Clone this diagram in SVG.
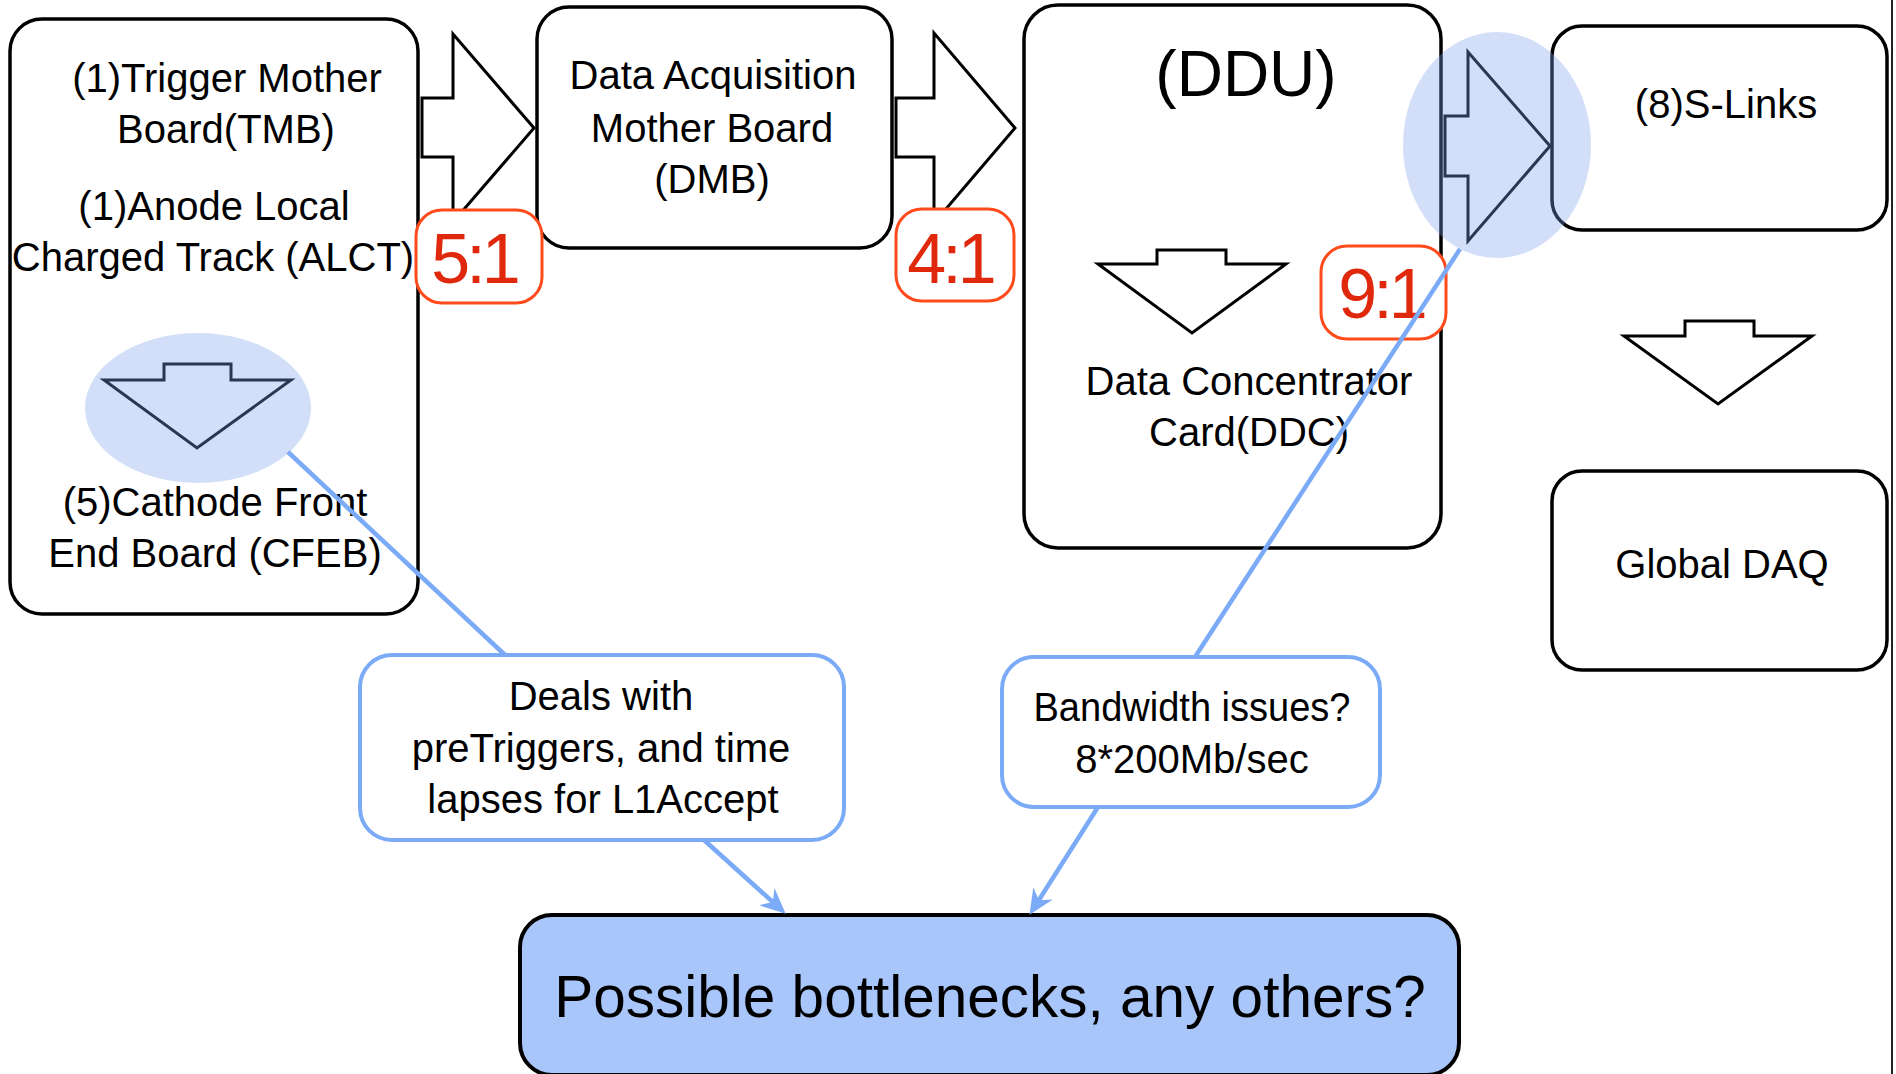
<svg xmlns="http://www.w3.org/2000/svg" width="1896" height="1074" viewBox="0 0 1896 1074">
  <defs>
    <style>
      .box { fill: #ffffff; stroke: #000000; stroke-width: 3.5; }
      .note { fill: #ffffff; stroke: #7baaf7; stroke-width: 4; }
      .goal { fill: #a9c6fa; stroke: #000000; stroke-width: 4; }
      .flow { fill: #ffffff; stroke: #000000; stroke-width: 3; stroke-linejoin: miter; }
      .badge { fill: #ffffff; stroke: #ff4a1c; stroke-width: 3; }
      .lbl { font-family: "Liberation Sans", Arial, sans-serif; font-size: 40px; fill: #000000; text-anchor: middle; }
      .ratio { font-family: "Liberation Sans", Arial, sans-serif; font-size: 70px; fill: #e0280c; text-anchor: middle; letter-spacing: -4px; }
      .halo { fill: #7da0ed; fill-opacity: 0.34; }
      .link { fill: none; stroke: #7baaf7; stroke-width: 4.5; }
    </style>
    <marker id="head" markerUnits="userSpaceOnUse" markerWidth="30" markerHeight="30" viewBox="-24 -12 26 24" refX="-6" refY="0" orient="auto">
      <path d="M0,0 L-22,-10 L-15,0 L-22,10 Z" fill="#7baaf7"/>
    </marker>
  </defs>

  <rect width="1896" height="1074" fill="#ffffff"/>

  <!-- Board-level flow arrows -->
  <g id="flow-arrows">
    <polygon class="flow" points="422,98 453,98 453,34 534,128 453,222 453,157 422,157"/>
    <polygon class="flow" points="896,98 934,98 934,33 1015,128 934,223 934,157 896,157"/>
    <polygon class="flow" points="1445,116 1468,116 1468,52 1550,146 1468,241 1468,176 1445,176"/>
  </g>

  <g id="tmb-alct-cfeb">
    <rect class="box" x="10" y="19" width="408" height="595" rx="32"/>
    <text class="lbl" x="227" y="92">(1)Trigger Mother</text>
    <text class="lbl" x="226" y="143">Board(TMB)</text>
    <text class="lbl" x="214" y="220">(1)Anode Local</text>
    <text class="lbl" x="213" y="271">Charged Track (ALCT)</text>
    <polygon class="flow" points="104,380 164,380 164,364 231,364 231,380 291,380 197,448"/>
    <text class="lbl" x="215" y="516">(5)Cathode Front</text>
    <text class="lbl" x="215" y="567">End Board (CFEB)</text>
  </g>

  <g id="dmb">
    <rect class="box" x="537" y="7" width="355" height="241" rx="32"/>
    <text class="lbl" x="713" y="89">Data Acquisition</text>
    <text class="lbl" x="712" y="142">Mother Board</text>
    <text class="lbl" x="712" y="193">(DMB)</text>
  </g>

  <g id="ddu">
    <rect class="box" x="1024" y="5" width="417" height="543" rx="34"/>
    <text class="lbl" x="1246" y="96" style="font-size:64px">(DDU)</text>
    <polygon class="flow" points="1098,264 1157,264 1157,250 1226,250 1226,264 1286,264 1192,333"/>
    <text class="lbl" x="1249" y="395">Data Concentrator</text>
    <text class="lbl" x="1249" y="446">Card(DDC)</text>
  </g>

  <g id="s-links">
    <rect class="box" x="1552" y="26" width="335" height="204" rx="30"/>
    <text class="lbl" x="1726" y="118">(8)S-Links</text>
  </g>

  <g id="slink-arrow">
    <polygon class="flow" points="1624,336 1685,336 1685,321 1754,321 1754,336 1812,336 1718,404"/>
  </g>

  <g id="global-daq">
    <rect class="box" x="1552" y="471" width="335" height="199" rx="30"/>
    <text class="lbl" x="1722" y="578">Global DAQ</text>
  </g>

  <!-- Reduction ratios -->
  <g id="ratio-5-1">
    <rect class="badge" x="416" y="210" width="126" height="93" rx="26"/>
    <text class="ratio" x="474" y="283">5:1</text>
  </g>
  <g id="ratio-4-1">
    <rect class="badge" x="896" y="209" width="118" height="92" rx="26"/>
    <text class="ratio" x="950" y="283">4:1</text>
  </g>
  <g id="ratio-9-1">
    <rect class="badge" x="1321" y="246" width="125" height="93" rx="26"/>
    <text class="ratio" x="1381" y="318">9:1</text>
  </g>

  <!-- Highlighted stages -->
  <g id="highlights">
    <ellipse class="halo" cx="198" cy="408" rx="113" ry="75"/>
    <ellipse class="halo" cx="1497" cy="145" rx="94" ry="113"/>
  </g>

  <g id="note-pretrigger">
    <rect class="note" x="360" y="655" width="484" height="185" rx="32"/>
    <text class="lbl" x="601" y="710">Deals with</text>
    <text class="lbl" x="601" y="762">preTriggers, and time</text>
    <text class="lbl" x="603" y="813">lapses for L1Accept</text>
  </g>

  <g id="note-bandwidth">
    <rect class="note" x="1002" y="657" width="378" height="150" rx="32"/>
    <text class="lbl" x="1192" y="721" textLength="317" lengthAdjust="spacingAndGlyphs">Bandwidth issues?</text>
    <text class="lbl" x="1192" y="773">8*200Mb/sec</text>
  </g>

  <g id="bottlenecks">
    <rect class="goal" x="520" y="915" width="939" height="160" rx="32"/>
    <text class="lbl" x="990" y="1017" style="font-size:58.5px">Possible bottlenecks, any others?</text>
  </g>

  <g id="connectors">
    <line class="link" x1="288" y1="452" x2="505" y2="655"/>
    <line class="link" x1="704" y1="840" x2="780.5" y2="909" marker-end="url(#head)"/>
    <line class="link" x1="1460" y1="249" x2="1195" y2="657"/>
    <line class="link" x1="1098" y1="807" x2="1033.2" y2="909" marker-end="url(#head)"/>
  </g>

  <line x1="1892" y1="0" x2="1892" y2="1074" stroke="#222222" stroke-width="2"/>
</svg>
